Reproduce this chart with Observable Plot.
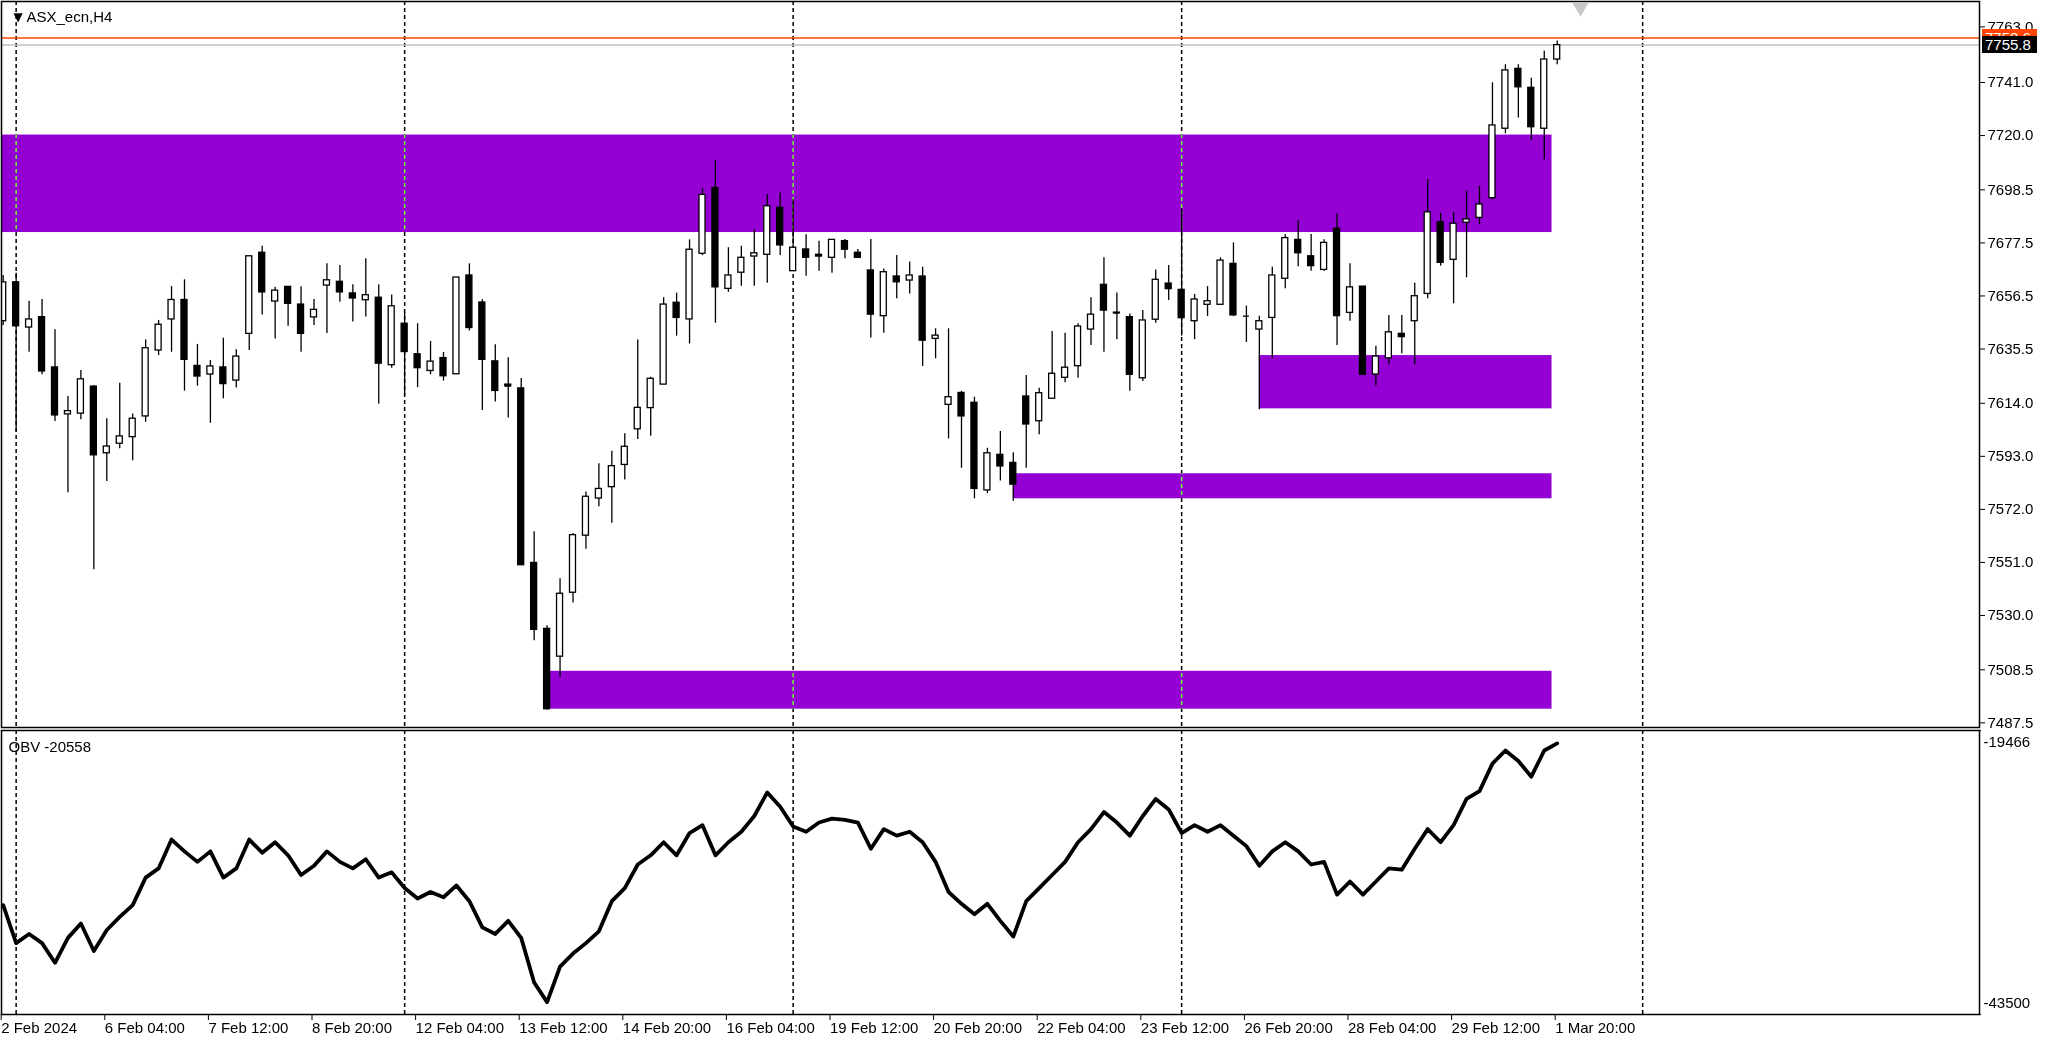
<!DOCTYPE html>
<html><head><meta charset="utf-8">
<script src="https://cdn.jsdelivr.net/npm/d3@7"></script>
<script src="https://cdn.jsdelivr.net/npm/@observablehq/plot@0.6"></script>
<style>
html,body{margin:0;padding:0;background:#fff;overflow:hidden}
#wrap{position:relative;width:2048px;height:1045px;font-family:'Liberation Sans',Arial,sans-serif}
#wrap svg{display:block;position:absolute;left:0}
.tag{position:absolute;left:1982px;height:17px;line-height:17px;font-size:15px;color:#fff;padding-left:3px;width:55px;box-sizing:border-box}
</style></head><body><div id="wrap"></div>
<script>
// ---- data (ASX_ecn, H4) ----
const opens=[7646.5,7661.9,7644.0,7648.1,7628.2,7609.6,7609.9,7620.6,7594.2,7598.0,7600.6,7608.8,7634.9,7647.2,7654.9,7628.8,7625.4,7628.2,7623.0,7641.5,7673.6,7654.3,7660.1,7653.1,7648.0,7660.6,7662.1,7657.5,7654.8,7655.8,7629.1,7645.5,7633.4,7626.8,7631.9,7625.5,7664.6,7653.9,7630.6,7621.4,7619.9,7550.8,7524.7,7513.7,7539.0,7561.6,7576.3,7580.8,7589.6,7603.7,7612.1,7621.4,7653.8,7647.2,7673.2,7699.2,7659.3,7665.7,7672.1,7672.8,7691.4,7666.3,7674.9,7672.8,7671.6,7678.2,7673.6,7666.6,7648.5,7664.2,7662.6,7664.2,7639.5,7613.4,7618.1,7614.2,7579.5,7593.6,7590.4,7616.7,7606.9,7615.8,7624.1,7628.7,7643.2,7660.9,7649.9,7648.1,7623.9,7647.1,7661.4,7658.9,7646.5,7653.0,7653.0,7669.2,7648.5,7643.2,7647.8,7663.3,7678.7,7672.2,7666.8,7683.1,7649.8,7660.2,7625.4,7631.8,7641.5,7646.5,7657.3,7685.7,7670.8,7685.5,7687.4,7695.2,7722.7,7746.4,7738.9,7722.7,7750.1];
const highs=[7664.6,7665.5,7654.4,7655.1,7643.1,7616.7,7627.0,7621.0,7607.9,7621.9,7609.8,7639.1,7646.8,7660.2,7662.9,7637.3,7630.9,7639.8,7635.2,7672.2,7676.2,7659.9,7660.1,7660.1,7655.1,7669.2,7668.6,7660.9,7671.2,7660.9,7656.9,7649.9,7645.5,7638.5,7634.1,7663.8,7669.2,7655.0,7637.2,7632.0,7623.8,7563.1,7525.9,7544.5,7562.5,7578.9,7590.1,7595.0,7601.9,7639.1,7624.3,7655.8,7657.6,7678.7,7699.2,7710.1,7675.6,7676.2,7682.7,7696.7,7697.3,7694.6,7680.7,7678.2,7678.7,7678.8,7674.9,7678.8,7667.2,7672.5,7669.9,7667.9,7643.5,7643.5,7618.7,7616.4,7596.2,7602.8,7594.4,7625.0,7620.0,7642.4,7641.7,7645.5,7655.8,7671.6,7657.7,7649.4,7650.7,7666.8,7668.6,7691.0,7657.1,7660.2,7671.6,7677.5,7652.5,7648.5,7667.9,7680.7,7686.4,7680.8,7678.7,7689.0,7669.2,7660.2,7636.6,7648.8,7648.8,7661.5,7702.6,7689.2,7689.6,7698.0,7699.9,7740.9,7748.0,7748.0,7742.7,7753.4,7757.4];
const lows=[7644.8,7602.5,7634.2,7625.3,7606.8,7578.6,7607.5,7548.1,7583.0,7596.0,7591.3,7606.5,7632.9,7634.2,7618.8,7620.8,7606.1,7615.8,7620.1,7634.9,7649.0,7639.5,7644.5,7634.2,7644.8,7641.6,7654.0,7646.2,7648.2,7613.6,7627.9,7617.0,7620.2,7625.3,7622.8,7625.5,7642.6,7611.1,7614.5,7608.2,7549.9,7520.0,7492.5,7505.4,7534.9,7556.2,7573.0,7566.5,7583.6,7599.7,7601.0,7621.4,7640.6,7637.5,7672.5,7645.7,7657.9,7660.3,7660.3,7661.5,7672.5,7666.3,7664.3,7666.3,7665.5,7671.2,7671.6,7639.9,7641.7,7655.4,7657.3,7628.6,7631.6,7599.9,7588.3,7576.2,7578.2,7583.2,7575.2,7588.3,7601.5,7615.8,7622.1,7623.9,7636.9,7634.2,7639.2,7618.8,7622.6,7645.7,7654.7,7640.6,7639.2,7648.4,7653.0,7648.4,7638.1,7611.4,7631.6,7659.3,7668.1,7666.3,7666.3,7636.9,7646.5,7625.3,7620.8,7629.2,7633.6,7629.2,7655.4,7668.3,7653.4,7663.7,7684.8,7694.6,7720.7,7726.9,7718.0,7710.4,7748.0];
const closes=[7661.9,7644.5,7647.2,7626.6,7609.2,7610.9,7623.5,7593.4,7596.9,7600.9,7607.9,7635.8,7645.1,7654.9,7631.2,7624.6,7628.6,7621.6,7632.5,7672.2,7657.9,7658.6,7653.4,7641.5,7651.0,7662.7,7657.9,7655.5,7656.8,7629.7,7652.4,7634.3,7627.9,7630.5,7624.7,7663.8,7643.8,7631.2,7618.9,7620.8,7549.9,7524.3,7492.9,7538.6,7561.8,7577.0,7580.1,7589.1,7596.8,7612.2,7623.7,7653.1,7647.8,7674.8,7696.5,7659.9,7664.6,7671.6,7673.4,7692.0,7676.5,7675.6,7671.6,7672.1,7678.7,7674.8,7671.6,7649.1,7665.9,7661.9,7664.6,7638.8,7640.8,7616.4,7608.8,7580.1,7594.2,7589.0,7581.8,7605.6,7618.0,7625.7,7628.1,7644.4,7649.1,7650.7,7649.7,7625.3,7646.8,7662.9,7659.2,7647.7,7655.1,7654.4,7670.5,7648.8,7648.5,7646.5,7664.6,7679.4,7673.4,7668.3,7677.5,7648.5,7659.9,7625.3,7632.5,7642.1,7640.2,7656.4,7689.6,7669.6,7685.1,7686.8,7692.7,7724.0,7745.8,7739.1,7723.3,7750.1,7755.8];
const obvValues=[-34243,-37459,-36683,-37459,-39122,-37015,-35795,-38124,-36350,-35241,-34243,-31914,-31138,-28698,-29696,-30583,-29696,-31914,-31138,-28698,-29807,-28920,-30029,-31692,-30916,-29696,-30583,-31138,-30361,-31914,-31470,-32801,-33688,-33134,-33577,-32579,-33910,-36128,-36683,-35574,-37015,-40786,-42449,-39455,-38346,-37459,-36461,-33910,-32801,-30805,-30029,-28920,-30029,-28143,-27478,-30029,-28920,-28032,-26702,-24705,-25925,-27589,-28032,-27256,-26923,-27034,-27256,-29474,-27811,-28365,-28032,-28920,-30583,-33134,-34132,-35019,-34132,-35574,-36904,-33910,-32801,-31692,-30583,-28920,-27811,-26369,-27256,-28365,-26702,-25260,-26147,-28143,-27478,-28032,-27478,-28365,-29252,-30916,-29696,-28920,-29696,-30805,-30583,-33356,-32247,-33356,-32247,-31138,-31248,-29474,-27811,-28920,-27478,-25260,-24594,-22266,-21157,-22044,-23375,-21157,-20558];
const tickBars=[0,8,16,24,32,40,48,56,64,72,80,88,96,104,112,120];
const tickLabels=["2 Feb 2024","6 Feb 04:00","7 Feb 12:00","8 Feb 20:00","12 Feb 04:00","13 Feb 12:00","14 Feb 20:00","16 Feb 04:00","19 Feb 12:00","20 Feb 20:00","22 Feb 04:00","23 Feb 12:00","26 Feb 20:00","28 Feb 04:00","29 Feb 12:00","1 Mar 20:00"];
const priceTicks=[7487.5,7508.5,7530.0,7551.0,7572.0,7593.0,7614.0,7635.5,7656.5,7677.5,7698.5,7720.0,7741.0,7763.0];
const obvTicks=[-19466,-43500];
const separators=[1,31,61,91,126.6];
const zoneStart=[-1,42,78,97];
const zoneEnd=[119.6,119.6,119.6,119.6];
const zoneTop=[7720.2,7507.9,7586.1,7632.9];
const zoneBottom=[7681.6,7492.9,7576.2,7611.8];
const bidPrice=7755.8, askPrice=7758.6;
const symbolTitle="ASX_ecn,H4";
const obvTitle="OBV -20558";
const shiftMarker=[121.8];

// ---- build ----
const bars=opens.map((o,i)=>({i,open:o,high:highs[i],low:lows[i],close:closes[i]}));
const obvData=obvValues.map((v,i)=>({i,v}));
const zones=zoneStart.map((s,k)=>({start:s,end:zoneEnd[k],top:zoneTop[k],bottom:zoneBottom[k]}));
const font="'Liberation Sans', Arial, sans-serif";
const W=2048;
const xDomain=[-0.131,152.61];
const half=0.232;
const sepOpts={x:d=>d,stroke:"#fff",strokeWidth:1.5,strokeDasharray:"4,3",mixBlendMode:"difference"};

const price=Plot.plot({
  width:W,height:729,marginTop:1,marginBottom:2,marginLeft:1,marginRight:69,
  style:{fontFamily:font,fontSize:"15px",color:"#000",background:"#fff",overflow:"visible"},
  x:{domain:xDomain,axis:null},
  y:{domain:[7485.65,7773.07],axis:null},
  color:{type:"identity"},
  marks:[
    Plot.frame({fill:"#fff"}),
    Plot.rect(zones,{x1:"start",x2:"end",y1:"bottom",y2:"top",fill:"#9400D3",clip:"frame"}),
    Plot.ruleX(separators,sepOpts),
    Plot.ruleY([askPrice],{y:d=>d,stroke:"#ff4500",strokeWidth:1.5}),
    Plot.ruleY([bidPrice],{y:d=>d,stroke:"#c0c0c0",strokeWidth:1.5}),
    Plot.ruleX(bars,{x:"i",y1:"low",y2:"high",stroke:"#000",strokeWidth:1.3,clip:"frame"}),
    Plot.rect(bars,{x1:d=>d.i-half,x2:d=>d.i+half,y1:"open",y2:"close",fill:d=>d.close>=d.open?"#fff":"#000",stroke:"#000",strokeWidth:1.3,clip:"frame"}),
    Plot.ruleY(bars.filter(d=>Math.abs(d.open-d.close)<0.6),{y:"close",x1:d=>d.i-half,x2:d=>d.i+half,stroke:"#000",strokeWidth:1.3,clip:"frame"}),
    Plot.frame({stroke:"#000",strokeWidth:1.5}),
    Plot.axisY({anchor:"right",ticks:priceTicks,tickFormat:d=>d.toFixed(1),tickSize:5,tickPadding:3,label:null}),
    Plot.dot(shiftMarker,{x:d=>d,frameAnchor:"top",dy:6,symbol:"triangle",rotate:180,r:6,fill:"#c8c8c8",stroke:null}),
    Plot.text(["▼"],{frameAnchor:"top-left",dx:12,dy:11,fontSize:12,fontFamily:"DejaVu Sans"}),
    Plot.text([symbolTitle],{frameAnchor:"top-left",dx:25,dy:10,textAnchor:"start"})
  ]
});

const obv=Plot.plot({
  width:W,height:316,marginTop:1,marginBottom:31,marginLeft:1,marginRight:69,
  style:{fontFamily:font,fontSize:"15px",color:"#000",background:"#fff",overflow:"visible"},
  x:{domain:xDomain,axis:null},
  y:{domain:[-43500,-19466],axis:null},
  marks:[
    Plot.frame({fill:"#fff"}),
    Plot.ruleX(separators,sepOpts),
    Plot.line(obvData,{x:"i",y:"v",stroke:"#000",strokeWidth:3.8,clip:"frame"}),
    Plot.frame({stroke:"#000",strokeWidth:1.5}),
    Plot.axisX({ticks:tickBars,tickFormat:d=>tickLabels[tickBars.indexOf(d)],tickSize:6,tickPadding:2,textAnchor:"start",dx:-2,label:null}),
    Plot.tickY(obvTicks,{y:d=>d,frameAnchor:"right",dx:2,stroke:"#000"}),
    Plot.text(obvTicks,{y:d=>d,frameAnchor:"right",dx:4,text:d=>String(d),textAnchor:"start"}),
    Plot.text([obvTitle],{frameAnchor:"top-left",dx:7,dy:11,textAnchor:"start"})
  ]
});
// shift OBV scale labels inward like the terminal does
obv.querySelectorAll("text").forEach(t=>{
  if(t.textContent===String(obvTicks[0])) t.setAttribute("transform",(t.getAttribute("transform")||"")+" translate(0,12)");
  if(t.textContent===String(obvTicks[1])) t.setAttribute("transform",(t.getAttribute("transform")||"")+" translate(0,-11)");
});

const wrap=document.getElementById("wrap");
price.style.top="0px";
obv.style.top="729px";
wrap.appendChild(price);
wrap.appendChild(obv);

const ys=price.scale("y");
function tag(v,bg){
  const d=document.createElement("div");
  d.className="tag";
  d.style.top=(ys.apply(v)-8.5)+"px";
  d.style.background=bg;
  d.textContent=v.toFixed(1);
  wrap.appendChild(d);
}
tag(askPrice,"#ff4500");
tag(bidPrice,"#000");
</script></body></html>
